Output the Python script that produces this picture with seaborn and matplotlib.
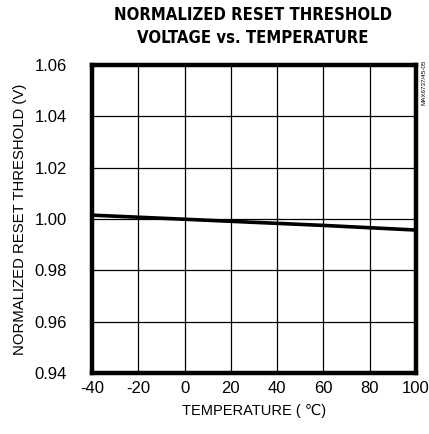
import numpy as np
import pandas as pd
import matplotlib
matplotlib.use("Agg")
import matplotlib.pyplot as plt
import seaborn as sns

# data
temperature = [-40, -20, 0, 20, 40, 60, 80, 100]
threshold = [1.0015, 1.0007, 0.9999, 0.9991, 0.9983, 0.9975, 0.9966, 0.9957]

x_ticks = [-40, -20, 0, 20, 40, 60, 80, 100]
y_ticks = [0.94, 0.96, 0.98, 1.00, 1.02, 1.04, 1.06]

df = pd.DataFrame({"Temperature": temperature, "Threshold": threshold})

sns.set_style("white", {"text.color": "black", "axes.labelcolor": "black",
                        "xtick.color": "black", "ytick.color": "black"})
plt.rcParams["font.family"] = ["Liberation Sans", "DejaVu Sans"]

fig = plt.figure(figsize=(4.29, 4.34), dpi=100)
ax = fig.add_axes([92 / 429, 1 - 373 / 434, 324 / 429, 308 / 434])

sns.lineplot(data=df, x="Temperature", y="Threshold", ax=ax,
             color="black", linewidth=2.6)

ax.set_xlim(-40, 100)
ax.set_ylim(0.94, 1.06)
ax.set_xticks(x_ticks)
ax.set_yticks(y_ticks)
ax.set_xticklabels([str(t) for t in x_ticks])
ax.set_yticklabels([f"{t:.2f}" for t in y_ticks])
ax.grid(True, color="black", linewidth=0.9)
ax.tick_params(length=0, labelsize=12, labelcolor="black")
ax.tick_params(axis="x", pad=5.5)
ax.tick_params(axis="y", pad=18)

for s in ax.spines.values():
    s.set_visible(True)
    s.set_color("black")
    s.set_linewidth(3.2)

ax.set_xlabel("TEMPERATURE ( \u2103)", fontsize=10.5, color="black")
ax.set_ylabel("NORMALIZED RESET THRESHOLD (V)", fontsize=10.7, color="black")
ax.xaxis.set_label_coords(0.5, -0.1)
ax.yaxis.set_label_coords(-0.2, 0.5)

title_font = dict(ha="center", va="center", fontsize=12, fontweight="bold",
                  family="DejaVu Sans", fontstretch="condensed", color="black")
fig.text(253 / 429, 1 - 15 / 434, "NORMALIZED RESET THRESHOLD", **title_font)
fig.text(253 / 429, 1 - 38 / 434, "VOLTAGE vs. TEMPERATURE", **title_font)
fig.text(424 / 429, 1 - 82 / 434, "MAX6737/45-05", rotation=90,
         ha="center", va="center", fontsize=4.5, color="black")

fig.savefig("out.png", dpi=100)
